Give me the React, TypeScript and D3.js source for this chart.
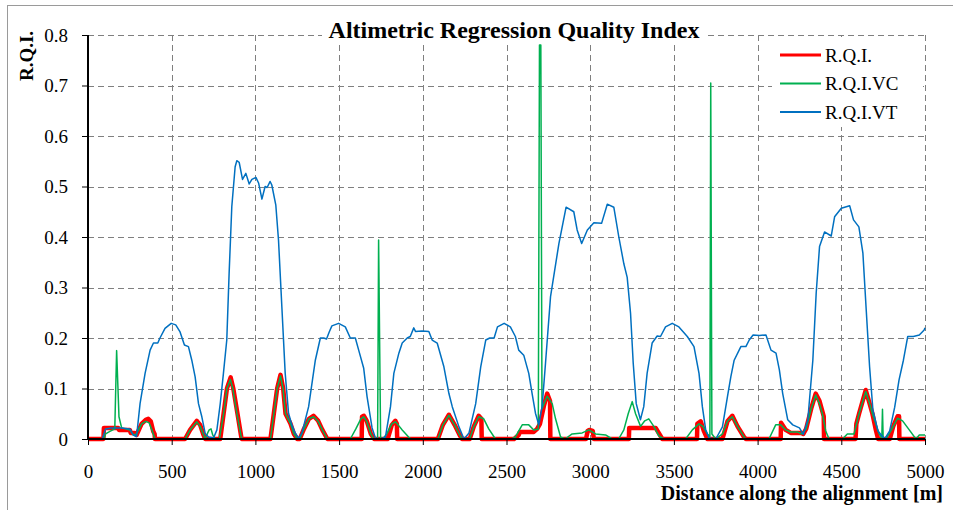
import React, { useEffect, useRef } from 'react';
import * as d3 from 'd3';

// distance along the alignment [m] and index values
const rqiDist = [0, 92, 95, 180, 185, 250, 255, 280, 290, 320, 345, 360, 375, 390, 398, 400, 580, 610, 650, 670, 690, 700, 790, 810, 830, 852, 868, 893, 915, 920, 1090, 1110, 1130, 1150, 1166, 1180, 1195, 1210, 1230, 1250, 1265, 1290, 1320, 1347, 1375, 1400, 1430, 1635, 1637, 1648, 1665, 1690, 1710, 1790, 1815, 1836, 1845, 1847, 2090, 2120, 2156, 2190, 2220, 2235, 2280, 2305, 2334, 2350, 2352, 2545, 2573, 2580, 2663, 2683, 2700, 2723, 2743, 2760, 2762, 2975, 2985, 2995, 3015, 3022, 3231, 3233, 3391, 3431, 3638, 3640, 3660, 3680, 3700, 3790, 3820, 3849, 3880, 3919, 3930, 4138, 4140, 4168, 4198, 4260, 4273, 4290, 4320, 4347, 4370, 4395, 4397, 4585, 4590, 4606, 4646, 4665, 4686, 4705, 4720, 4790, 4810, 4836, 4845, 4847, 5000];
const rqiVal = [0, 0, 0.022, 0.022, 0.018, 0.018, 0.012, 0.012, 0.008, 0.03, 0.038, 0.04, 0.035, 0.015, 0.01, 0, 0, 0.018, 0.036, 0.028, 0.008, 0, 0, 0.05, 0.1, 0.122, 0.1, 0.05, 0.005, 0, 0, 0.05, 0.1, 0.127, 0.1, 0.05, 0.04, 0.03, 0.01, 0, 0, 0.02, 0.04, 0.046, 0.036, 0.018, 0, 0, 0.044, 0.046, 0.036, 0.01, 0, 0, 0.028, 0.036, 0.03, 0, 0, 0.028, 0.048, 0.028, 0.008, 0, 0, 0.025, 0.046, 0.04, 0, 0, 0.008, 0.014, 0.014, 0.02, 0.03, 0.065, 0.09, 0.075, 0, 0, 0.016, 0.018, 0.016, 0, 0, 0.022, 0.022, 0, 0, 0.03, 0.035, 0.015, 0, 0, 0.035, 0.046, 0.025, 0.004, 0, 0, 0.032, 0.018, 0.012, 0.012, 0.01, 0.02, 0.06, 0.09, 0.075, 0.045, 0, 0, 0.03, 0.05, 0.097, 0.075, 0.05, 0.02, 0, 0, 0.025, 0.045, 0.045, 0, 0];

const vcDist = [0, 95, 105, 131, 160, 171, 185, 201, 250, 270, 290, 320, 345, 365, 385, 400, 580, 610, 650, 670, 700, 715, 724, 735, 745, 760, 785, 810, 830, 850, 865, 890, 915, 920, 1090, 1110, 1130, 1150, 1165, 1180, 1195, 1210, 1230, 1250, 1265, 1290, 1320, 1348, 1375, 1400, 1430, 1567, 1600, 1630, 1647, 1665, 1690, 1705, 1730, 1736, 1748, 1760, 1785, 1815, 1836, 1860, 1877, 1915, 1930, 2090, 2120, 2156, 2190, 2220, 2235, 2280, 2305, 2334, 2364, 2394, 2434, 2530, 2553, 2594, 2633, 2663, 2690, 2697, 2705, 2712, 2743, 2773, 2793, 2823, 2850, 2892, 2952, 2992, 3032, 3092, 3131, 3170, 3201, 3227, 3251, 3271, 3301, 3326, 3350, 3380, 3410, 3440, 3570, 3610, 3650, 3673, 3700, 3715, 3720, 3727, 3750, 3790, 3820, 3849, 3880, 3919, 3930, 4068, 4108, 4138, 4168, 4198, 4238, 4262, 4290, 4320, 4347, 4370, 4387, 4407, 4427, 4507, 4536, 4576, 4606, 4646, 4665, 4686, 4726, 4742, 4746, 4750, 4766, 4796, 4836, 4866, 4906, 4946, 4966, 5000];
const vcVal = [0, 0, 0.01, 0.015, 0.02, 0.175, 0.044, 0.022, 0.018, 0.008, 0.01, 0.03, 0.035, 0.032, 0.015, 0, 0, 0.018, 0.034, 0.025, 0, 0.012, 0.018, 0.02, 0.008, 0, 0, 0.05, 0.1, 0.118, 0.1, 0.05, 0.005, 0, 0, 0.05, 0.1, 0.125, 0.1, 0.05, 0.04, 0.03, 0.01, 0, 0, 0.02, 0.04, 0.044, 0.035, 0.018, 0, 0, 0.02, 0.04, 0.044, 0.035, 0.01, 0, 0, 0.394, 0, 0, 0.01, 0.03, 0.034, 0.025, 0.018, 0.004, 0, 0, 0.028, 0.047, 0.028, 0.008, 0, 0, 0.025, 0.044, 0.04, 0.02, 0, 0, 0.004, 0.028, 0.028, 0.018, 0.02, 0.78, 0.78, 0.06, 0.085, 0.07, 0.04, 0.004, 0, 0.01, 0.012, 0.018, 0.01, 0.008, 0, 0, 0.018, 0.05, 0.074, 0.05, 0.025, 0.036, 0.04, 0.025, 0.006, 0, 0, 0.018, 0.03, 0.025, 0.01, 0.005, 0.705, 0.01, 0, 0.01, 0.035, 0.044, 0.025, 0.004, 0, 0, 0.028, 0.028, 0.018, 0.014, 0.014, 0.01, 0.02, 0.06, 0.087, 0.07, 0.05, 0.016, 0, 0, 0.01, 0.01, 0.05, 0.094, 0.075, 0.05, 0.01, 0.002, 0.059, 0.002, 0, 0.016, 0.041, 0.036, 0.018, 0, 0.008, 0.008];

const vtDist = [0, 85, 105, 140, 200, 250, 270, 290, 311, 341, 371, 391, 417, 430, 460, 497, 524, 550, 576, 600, 620, 640, 660, 680, 700, 720, 750, 770, 790, 809, 829, 843, 859, 879, 889, 903, 923, 943, 963, 979, 1003, 1019, 1039, 1058, 1070, 1088, 1098, 1122, 1138, 1158, 1178, 1198, 1218, 1238, 1258, 1278, 1318, 1341, 1358, 1388, 1408, 1425, 1441, 1457, 1497, 1537, 1567, 1597, 1617, 1647, 1667, 1697, 1717, 1747, 1777, 1807, 1827, 1857, 1877, 1907, 1925, 1946, 1956, 1996, 2036, 2056, 2086, 2126, 2156, 2176, 2216, 2246, 2276, 2316, 2346, 2376, 2400, 2426, 2446, 2486, 2523, 2553, 2573, 2603, 2633, 2653, 2673, 2693, 2713, 2733, 2763, 2813, 2856, 2902, 2922, 2949, 2983, 3022, 3068, 3102, 3141, 3171, 3201, 3221, 3241, 3257, 3275, 3300, 3320, 3340, 3370, 3400, 3420, 3450, 3490, 3530, 3580, 3620, 3650, 3670, 3690, 3710, 3750, 3790, 3820, 3840, 3860, 3900, 3930, 3950, 3973, 4010, 4050, 4080, 4110, 4130, 4150, 4180, 4210, 4250, 4273, 4300, 4330, 4350, 4370, 4400, 4440, 4460, 4500, 4550, 4573, 4605, 4629, 4649, 4669, 4689, 4719, 4759, 4789, 4819, 4845, 4871, 4897, 4930, 4966, 4995, 5000];
const vtVal = [0, 0, 0.02, 0.022, 0.022, 0.02, 0.008, 0.005, 0.07, 0.13, 0.176, 0.19, 0.19, 0.2, 0.219, 0.229, 0.226, 0.212, 0.186, 0.183, 0.156, 0.123, 0.07, 0.044, 0.011, 0.004, 0.002, 0.018, 0.07, 0.13, 0.196, 0.328, 0.46, 0.539, 0.551, 0.548, 0.514, 0.526, 0.505, 0.514, 0.518, 0.507, 0.475, 0.5, 0.498, 0.51, 0.503, 0.463, 0.394, 0.262, 0.13, 0.051, 0.028, 0.012, 0.001, 0.012, 0.064, 0.117, 0.156, 0.2, 0.2, 0.198, 0.212, 0.224, 0.229, 0.222, 0.2, 0.2, 0.176, 0.14, 0.084, 0.022, 0.002, 0, 0.004, 0.064, 0.13, 0.17, 0.19, 0.2, 0.203, 0.22, 0.213, 0.214, 0.213, 0.196, 0.19, 0.143, 0.09, 0.064, 0.024, 0, 0.012, 0.07, 0.143, 0.196, 0.2, 0.2, 0.222, 0.229, 0.222, 0.203, 0.176, 0.166, 0.13, 0.09, 0.051, 0.028, 0.065, 0.15, 0.282, 0.387, 0.459, 0.45, 0.414, 0.387, 0.414, 0.428, 0.427, 0.465, 0.459, 0.4, 0.347, 0.32, 0.249, 0.15, 0.07, 0.038, 0.064, 0.13, 0.19, 0.204, 0.203, 0.222, 0.229, 0.222, 0.203, 0.183, 0.13, 0.064, 0.018, 0.002, 0, 0.024, 0.084, 0.123, 0.156, 0.183, 0.183, 0.196, 0.206, 0.205, 0.206, 0.176, 0.17, 0.137, 0.09, 0.038, 0.028, 0.022, 0.009, 0.038, 0.156, 0.289, 0.381, 0.41, 0.402, 0.44, 0.457, 0.462, 0.434, 0.42, 0.368, 0.255, 0.143, 0.057, 0.016, 0, 0.016, 0.063, 0.117, 0.156, 0.203, 0.203, 0.206, 0.216, 0.22];

const seriesNames = ['R.Q.I.', 'R.Q.I.VC', 'R.Q.I.VT'];
const xTicks = [0, 500, 1000, 1500, 2000, 2500, 3000, 3500, 4000, 4500, 5000];
const yTicks = [0, 0.1, 0.2, 0.3, 0.4, 0.5, 0.6, 0.7, 0.8];

const App = () => {
  const svgRef = useRef<SVGSVGElement>(null);

  useEffect(() => {
    const svg = d3.select(svgRef.current);
    svg.selectAll('*').remove();
    const font = 'Liberation Serif, Times New Roman, serif';

    const x = d3.scaleLinear().domain([0, 5000]).range([88, 925]);
    const y = d3.scaleLinear().domain([0, 0.8]).range([439, 35]);

    // outer frame
    svg.append('rect')
      .attr('x', 7.5).attr('y', 5.5).attr('width', 980).attr('height', 540)
      .attr('fill', 'white').attr('stroke', '#9a9a9a');

    // grid
    const grid = svg.append('g').attr('stroke', '#7f7f7f').attr('stroke-dasharray', '6,4');
    grid.selectAll('line.h').data(yTicks.slice(1)).enter().append('line')
      .attr('x1', 88).attr('x2', 925)
      .attr('y1', d => Math.round(y(d)) + 0.5).attr('y2', d => Math.round(y(d)) + 0.5);
    grid.selectAll('line.v').data(xTicks.slice(1)).enter().append('line')
      .attr('y1', 35).attr('y2', 439)
      .attr('x1', d => Math.round(x(d)) + 0.5).attr('x2', d => Math.round(x(d)) + 0.5);

    // series
    const series = [
      { name: seriesNames[0], dist: rqiDist, val: rqiVal, color: '#ff0000', w: 4.5 },
      { name: seriesNames[1], dist: vcDist, val: vcVal, color: '#00b050', w: 1.5 },
      { name: seriesNames[2], dist: vtDist, val: vtVal, color: '#0070c0', w: 1.5 },
    ];
    const line = d3.line<[number, number]>().x(d => x(d[0])).y(d => y(d[1]));
    series.forEach(s => {
      const pts = s.dist.map((d, i) => [d, s.val[i]] as [number, number]);
      svg.append('path')
        .attr('d', line(pts))
        .attr('fill', 'none')
        .attr('stroke', s.color)
        .attr('stroke-width', s.w)
        .attr('stroke-linejoin', 'round');
    });

    // axes
    const yAxis = svg.append('g').attr('transform', 'translate(88,0)')
      .call(d3.axisLeft(y).tickValues(yTicks).tickSize(6).tickPadding(14)
        .tickFormat(d => (d === 0 ? '0' : d3.format('.1f')(d as number))));
    const xAxis = svg.append('g').attr('transform', 'translate(0,439)')
      .call(d3.axisBottom(x).tickValues(xTicks).tickSize(6).tickPadding(20).tickFormat(d3.format('d')));
    [yAxis, xAxis].forEach(a => {
      a.select('.domain').attr('stroke', '#000').attr('stroke-width', 2);
      a.selectAll('text').attr('font-family', font).attr('font-size', 19).attr('fill', '#000');
      a.selectAll('line').attr('stroke', '#000');
    });
    yAxis.select('.domain').attr('d', 'M0,439V35');
    xAxis.select('.domain').attr('d', 'M88,0H925');

    // title
    svg.append('rect').attr('x', 322).attr('y', 15).attr('width', 385).attr('height', 26).attr('fill', 'white');
    svg.append('text').attr('x', 514).attr('y', 38).attr('text-anchor', 'middle')
      .attr('font-family', font).attr('font-weight', 'bold').attr('font-size', 24)
      .text('Altimetric Regression Quality Index');

    // axis titles
    svg.append('text').attr('transform', 'translate(33,56) rotate(-90)').attr('text-anchor', 'middle')
      .attr('font-family', font).attr('font-weight', 'bold').attr('font-size', 19).text('R.Q.I.');
    svg.append('text').attr('x', 943).attr('y', 500).attr('text-anchor', 'end')
      .attr('font-family', font).attr('font-weight', 'bold').attr('font-size', 20)
      .text('Distance along the alignment [m]');

    // legend
    const lg = svg.append('g');
    lg.append('rect').attr('x', 772).attr('y', 37).attr('width', 151).attr('height', 90).attr('fill', 'white');
    series.forEach((s, i) => {
      const ly = 55 + i * 28.5;
      lg.append('line').attr('x1', 780).attr('x2', 821).attr('y1', ly).attr('y2', ly)
        .attr('stroke', s.color).attr('stroke-width', i === 0 ? 3 : 2);
      lg.append('text').attr('x', 825).attr('y', ly + 6.5)
        .attr('font-family', font).attr('font-size', 19).text(s.name);
    });
  }, []);

  return <svg ref={svgRef} width={953} height={510} style={{ position: 'absolute', left: 0, top: 0 }} />;
};

export default App;
